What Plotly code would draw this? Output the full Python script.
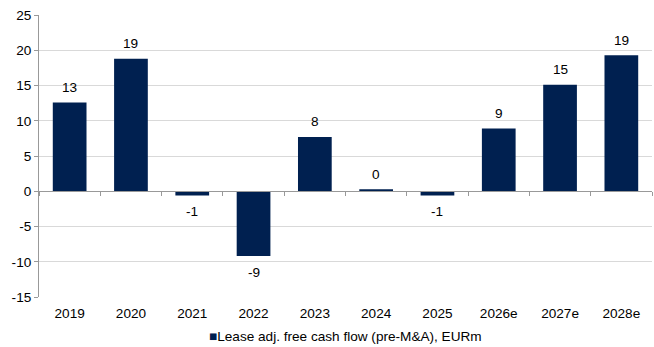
import plotly.graph_objects as go

categories = ["2019", "2020", "2021", "2022", "2023", "2024", "2025", "2026e", "2027e", "2028e"]
values = [12.6, 18.8, -0.6, -9.2, 7.7, 0.3, -0.6, 8.9, 15.1, 19.3]
labels = ["13", "19", "-1", "-9", "8", "0", "-1", "9", "15", "19"]
y_ticks = [-15, -10, -5, 0, 5, 10, 15, 20, 25]
y_ticktext = ["-15", "-10", "-5", "0", "5", "10", "15", "20", "25"]
series_name = "Lease adj. free cash flow (pre-M&A), EURm"

NAVY = "#002050"
FONT = "Liberation Sans, Arial, sans-serif"
FS = 13.6

fig = go.Figure()
fig.add_trace(go.Bar(x=categories, y=values, name=series_name,
                     marker=dict(color=NAVY, line=dict(width=0)),
                     xaxis="x", yaxis="y", showlegend=False))
# invisible trace carrying the bottom label axis
fig.add_trace(go.Scatter(x=categories, y=[0]*len(categories), mode="none",
                         showlegend=False, hoverinfo="skip", xaxis="x2", yaxis="y"))

for i, (v, t) in enumerate(zip(values, labels)):
    fig.add_annotation(x=i, y=v, xref="x", yref="y", text=t, showarrow=False,
                       yshift=15 if v >= 0 else -16,
                       font=dict(family=FONT, size=FS, color="#000000"))

# legend
fig.add_annotation(xref="paper", yref="paper", x=0.5, y=-0.141, xanchor="center", yanchor="middle",
                   text=f"<span style='color:{NAVY}'>■</span>{series_name}", showarrow=False,
                   font=dict(family=FONT, size=FS, color="#000000"))

ymin, ymax = -15, 25
xr = [-0.5, len(categories) - 0.5]
fig.update_layout(
    width=654, height=347,
    margin=dict(l=39, r=2, t=15, b=50),
    paper_bgcolor="white", plot_bgcolor="white",
    font=dict(family=FONT, size=FS, color="#000000"),
    bargap=0.45,
    showlegend=False,
    xaxis=dict(type="category", categoryorder="array", categoryarray=categories, range=xr,
               anchor="free", position=(0 - ymin) / (ymax - ymin),
               showline=True, linecolor="#999999", linewidth=1,
               ticks="outside", tickson="boundaries", ticklen=4, tickcolor="#999999",
               showticklabels=False, showgrid=False, zeroline=False),
    xaxis2=dict(type="category", categoryorder="array", categoryarray=categories, range=xr,
                overlaying="x", anchor="y", side="bottom",
                showline=False, ticks="", showgrid=False, zeroline=False,
                ticklabelstandoff=6, tickfont=dict(size=FS)),
    yaxis=dict(range=[ymin, ymax], tickvals=y_ticks, ticktext=y_ticktext, showgrid=True,
               gridcolor="#d9d9d9", gridwidth=1, zeroline=False,
               showline=True, linecolor="#999999", linewidth=1,
               ticks="outside", ticklen=4, tickcolor="#999999",
               tickfont=dict(size=FS)),
)

fig.write_html("out.html")
